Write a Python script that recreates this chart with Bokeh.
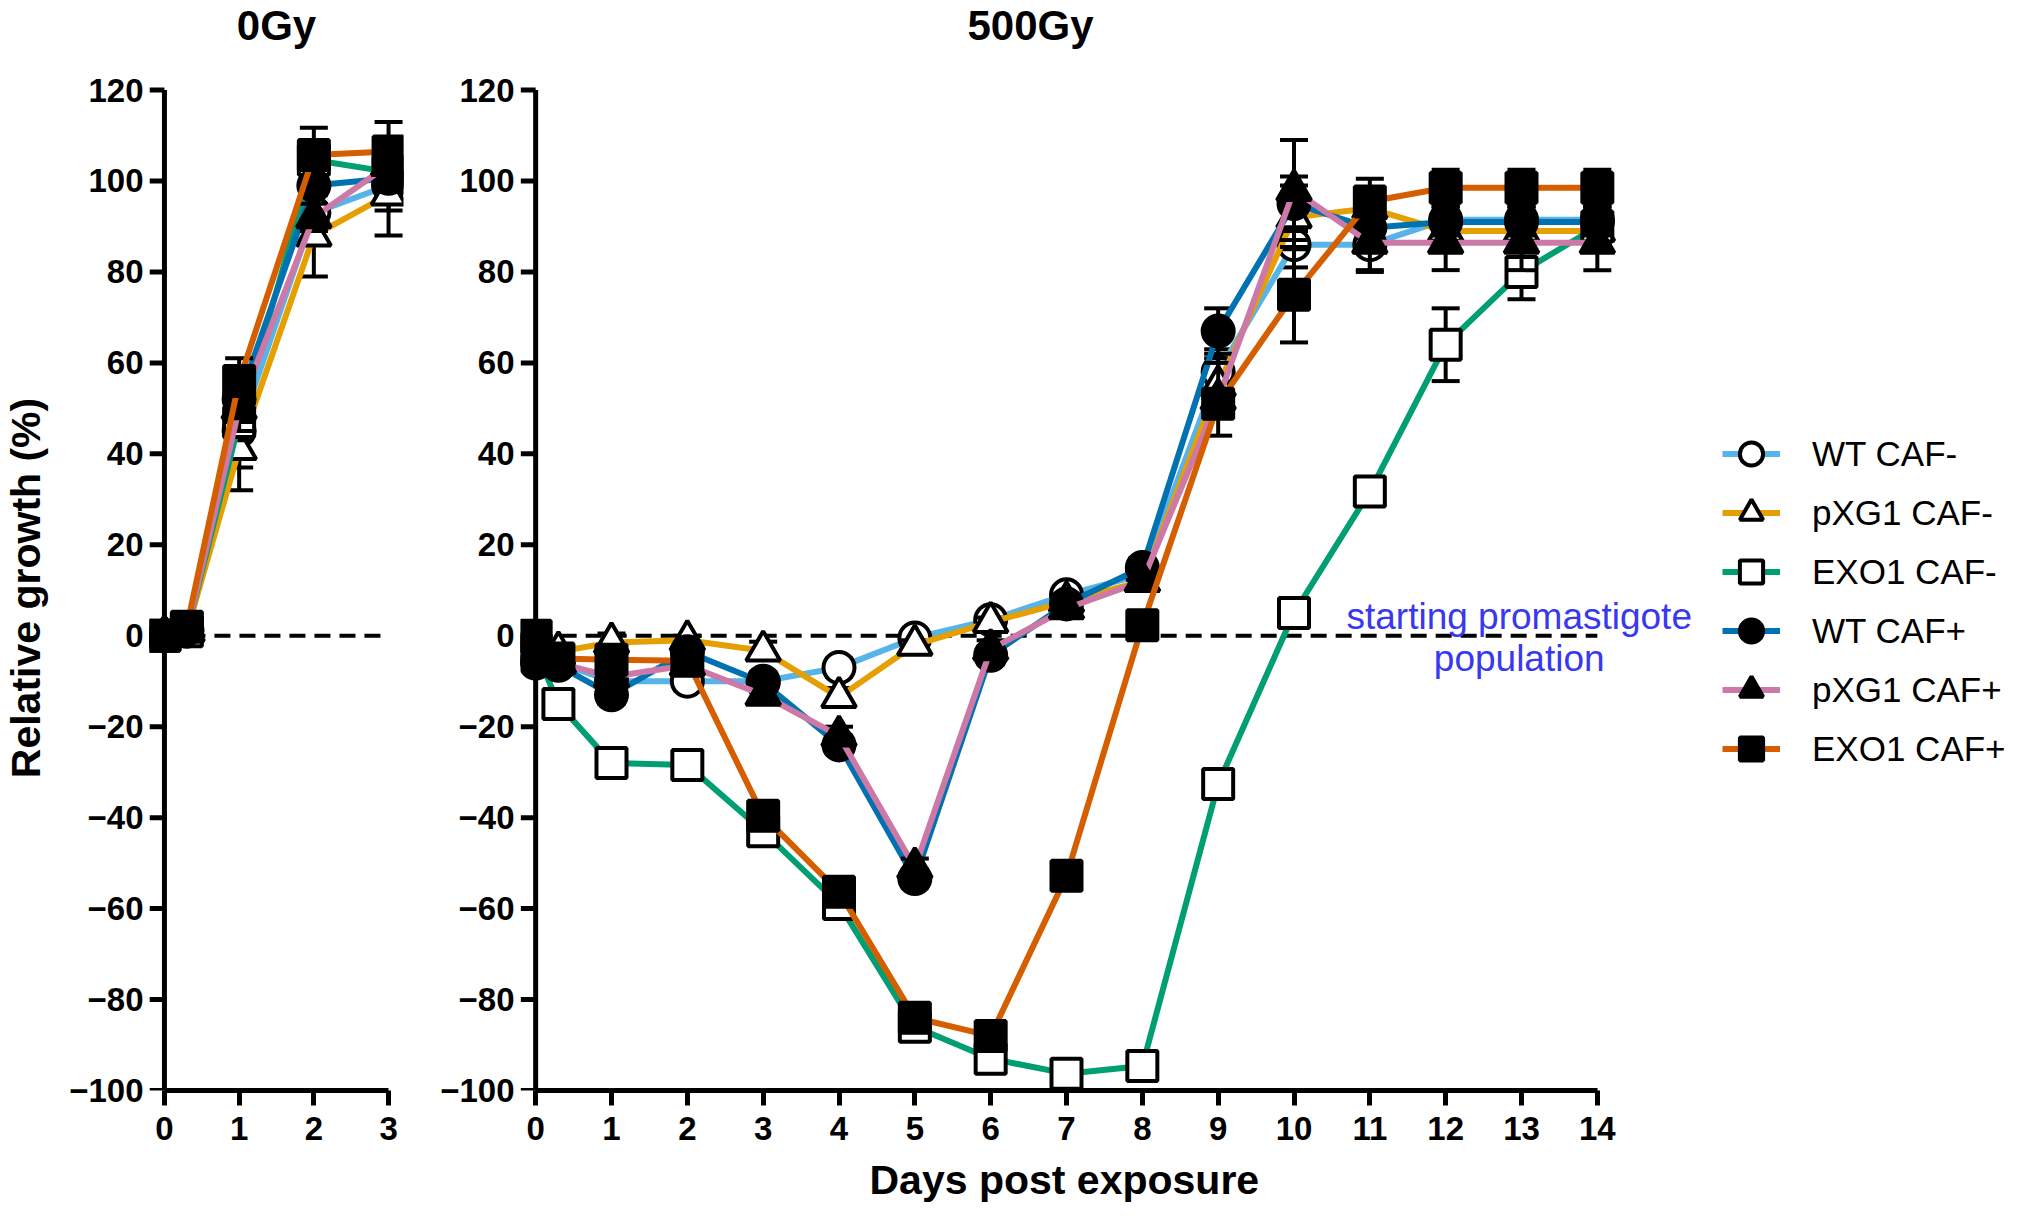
import math
from bokeh.plotting import figure
from bokeh.layouts import row
from bokeh.models import (Range1d, FixedTicker, Label, Legend, LegendItem, ColumnDataSource,
                          Title, LinearAxis)
from bokeh.embed import file_html
from bokeh.resources import INLINE

# ---------------- data ----------------
series_names = ["WT CAF-", "pXG1 CAF-", "EXO1 CAF-", "WT CAF+", "pXG1 CAF+", "EXO1 CAF+"]

days_0gy = [0, 0.3, 1, 2, 3]
days_500gy = [0, 0.3, 1, 2, 3, 4, 5, 6, 7, 8, 9, 10, 11, 12, 13, 14]

y_ticks = [-100, -80, -60, -40, -20, 0, 20, 40, 60, 80, 100, 120]
y_axis_extent = [-100, 120]

# 0 Gy: mean relative growth (%) and error
wt_neg_0 = [0, 1, 45, 93, 99]
pxg_neg_0 = [0, 1, 41, 88, 97]
exo_neg_0 = [0, 1, 47, 104.6, 102]
wt_pos_0 = [0, 1.5, 52, 99, 100.6]
pxg_pos_0 = [0, 1, 50, 92, 103.5]
exo_pos_0 = [0, 2, 56, 105.7, 106.5]

wt_neg_0_err = [1, 1, 8, 4, 5.5]
pxg_neg_0_err = [1, 1, 9, 9, 9]
exo_neg_0_err = [1, 1, 4, 4, 3]
wt_pos_0_err = [1, 1, 5, 2, 3]
pxg_pos_0_err = [1, 1, 5, 3, 4]
exo_pos_0_err = [1, 1, 5, 6, 6.5]

# 500 Gy
wt_neg_500 = [-2, -6, -10, -10, -10, -7, -0.5, 3.5, 9, 13.5, 58, 86, 86, 91.5, 91.5, 91.5]
pxg_neg_500 = [-1, -3.5, -1.5, -1, -3.3, -13.5, -2, 3, 7.5, 12, 55, 92, 94, 89, 89, 89]
exo_neg_500 = [-3, -15, -28, -28.4, -43, -59, -86, -93, -96.3, -94.6, -32.6, 5, 31.7, 64, 80, 90]
wt_pos_500 = [-6, -6.5, -13, -3.5, -10.3, -24, -53.4, -4.3, 7, 15, 67, 95, 89.7, 91, 91, 91]
pxg_pos_500 = [-4, -6, -9, -6.5, -13, -22, -51, -3, 6, 12, 52, 98, 86.4, 86.4, 86.4, 86.4]
exo_pos_500 = [0, -5, -5.3, -5.5, -39.6, -56.3, -84, -88, -52.8, 2.3, 51, 75, 95.5, 98.5, 98.5, 98.5]

wt_neg_500_err = [1, 2, 2, 2, 2, 2, 1, 1, 1, 2, 5, 5, 6, 3, 3, 3]
pxg_neg_500_err = [1, 1, 2, 1, 2, 2, 1, 1, 1, 2, 6, 7, 4, 3, 3, 3]
exo_neg_500_err = [1, 2, 2, 2, 2, 2, 2, 2, 2, 2, 2, 2, 3, 8, 6, 4]
wt_pos_500_err = [1, 2, 2, 2, 2, 2, 2, 2, 2, 2, 5, 6, 4, 3, 3, 3]
pxg_pos_500_err = [1, 2, 2, 2, 2, 2, 2, 2, 2, 2, 8, 11, 6, 6, 6, 6]
exo_pos_500_err = [1, 2, 2, 2, 2, 2, 2, 2, 2, 2, 2, 10.5, 5, 4, 4, 4]

baseline_0gy_x = [0, 3]
baseline_500gy_x = [0, 14]
baseline_y = [0, 0]

# ---------------- styles ----------------
FONT = "Liberation Sans"
colors = ["#56B4E9", "#E69F00", "#009E73", "#0072B2", "#CC79A7", "#D55E00"]
markers = ["circle", "triangle", "square", "circle", "triangle", "square"]
fills = ["white", "white", "white", "black", "black", "black"]
msizes = [31, 34, 30, 31, 34, 30]

vals_0 = [wt_neg_0, pxg_neg_0, exo_neg_0, wt_pos_0, pxg_pos_0, exo_pos_0]
errs_0 = [wt_neg_0_err, pxg_neg_0_err, exo_neg_0_err, wt_pos_0_err, pxg_pos_0_err, exo_pos_0_err]
vals_500 = [wt_neg_500, pxg_neg_500, exo_neg_500, wt_pos_500, pxg_pos_500, exo_pos_500]
errs_500 = [wt_neg_500_err, pxg_neg_500_err, exo_neg_500_err, wt_pos_500_err, pxg_pos_500_err, exo_pos_500_err]

FRAME_H = 1005


def make_panel(x_end, x_stop, fw, mbl, mbr, title, title_align, title_offset):
    p = figure(frame_width=fw, frame_height=FRAME_H, title=None,
               x_range=Range1d(-0.2, x_stop), y_range=Range1d(-100, 121),
               output_backend="svg", toolbar_location=None,
               min_border_left=mbl, min_border_right=mbr,
               min_border_top=84, min_border_bottom=129)
    xax = p.below[0]
    yax = p.left[0]
    # invisible spacer axis next to the frame, then the panel title above it
    spacer = LinearAxis(ticker=FixedTicker(ticks=[0]), major_label_overrides={0: ""},
                        axis_line_color=None, major_tick_line_color="white",
                        minor_tick_line_color=None, major_tick_out=36, major_tick_in=0,
                        minor_tick_out=0, major_label_standoff=0,
                        major_label_text_font_size="1px")
    p.add_layout(spacer, "above")
    p.add_layout(Title(text=title, align=title_align, offset=title_offset, vertical_align="middle",
                       text_font=FONT, text_font_style="bold", text_font_size="42px",
                       text_color="black", standoff=0), "above")
    p.outline_line_color = None
    p.background_fill_color = "white"
    p.border_fill_color = "white"
    p.grid.visible = False
    for ax in (xax, yax):
        ax.axis_line_width = 5
        ax.axis_line_color = "black"
        ax.major_tick_line_width = 5
        ax.major_tick_line_color = "black"
        ax.major_tick_out = 15
        ax.major_tick_in = 0
        ax.minor_tick_line_color = None
        ax.major_label_text_font = FONT
        ax.major_label_text_font_style = "bold"
        ax.major_label_text_font_size = "33px"
        ax.major_label_text_color = "black"
        ax.axis_label_text_font = FONT
        ax.axis_label_text_font_style = "bold"
        ax.axis_label_text_font_size = "41px"
        ax.axis_label_text_color = "black"
    xax.ticker = FixedTicker(ticks=list(range(0, x_end + 1)))
    xax.bounds = (0, x_end)
    xax.major_label_standoff = 11
    # y axis: labels from the standard axis, line and ticks drawn at x = 0
    yax.ticker = FixedTicker(ticks=y_ticks)
    yax.axis_line_color = None
    yax.major_tick_line_color = None
    yax.major_tick_out = 0
    yax.major_label_standoff = 6
    p.line([0, 0], y_axis_extent, line_color="black", line_width=5)
    p.ray(x=[0] * len(y_ticks), y=y_ticks, length=15, length_units="screen",
          angle=math.pi, line_color="black", line_width=5)
    return p, xax, yax


def draw_series(p, days, vals, errs, i):
    lo = [v - e for v, e in zip(vals, errs)]
    hi = [v + e for v, e in zip(vals, errs)]
    src = ColumnDataSource(dict(x=days, y=vals, lo=lo, hi=hi))
    p.segment(x0="x", y0="lo", x1="x", y1="hi", source=src, line_color="black", line_width=4)
    p.scatter(x="x", y="lo", marker="dash", size=28, line_color="black", line_width=4, source=src)
    p.scatter(x="x", y="hi", marker="dash", size=28, line_color="black", line_width=4, source=src)
    ln = p.line(x="x", y="y", source=src, line_color=colors[i], line_width=6)
    mk = p.scatter(x="x", y="y", marker=markers[i], size=msizes[i], fill_color=fills[i],
                   line_color="black", line_width=4, source=src)
    return ln, mk


# ---------------- left panel: 0 Gy ----------------
p1, x1, y1 = make_panel(3, 3.2, 254, 148, 10, "0Gy", "center", 0)
y1.axis_label = "Relative growth (%)"
y1.axis_label_standoff = 17
p1.line(baseline_0gy_x, baseline_y, line_color="black", line_width=4, line_dash="16 9")
for i in range(6):
    draw_series(p1, days_0gy, vals_0[i], errs_0[i], i)

# ---------------- right panel: 500 Gy ----------------
p2, x2, y2 = make_panel(14, 15.4, 1183, 107, 320, "500Gy", "left", 447)
p2.add_layout(Title(text="Days post exposure", align="left", offset=349, vertical_align="middle",
                    text_font=FONT, text_font_style="bold", text_font_size="41px",
                    text_color="black", standoff=26), "below")
p2.line(baseline_500gy_x, baseline_y, line_color="black", line_width=4, line_dash="16 9")
items = []
for i in range(6):
    ln, mk = draw_series(p2, days_500gy, vals_500[i], errs_500[i], i)
    items.append(LegendItem(label=series_names[i], renderers=[ln, mk]))
p2.add_layout(Label(x=12.97, y=4.2, text="starting promastigote", text_align="center",
                    text_baseline="middle", text_font=FONT, text_font_size="37px", text_color="#3838f0"))
p2.add_layout(Label(x=12.97, y=-5.0, text="population", text_align="center",
                    text_baseline="middle", text_font=FONT, text_font_size="37px", text_color="#3838f0"))

legend = Legend(items=items, location=(19, 312), orientation="vertical",
                glyph_width=58, glyph_height=59, spacing=0, padding=0, margin=0,
                label_standoff=32, label_text_font=FONT, label_text_font_size="35px",
                label_text_color="black", border_line_color=None, background_fill_alpha=0)
p2.add_layout(legend, "right")

layout = row(p1, p2)
open("out.html", "w").write(file_html(layout, INLINE))
